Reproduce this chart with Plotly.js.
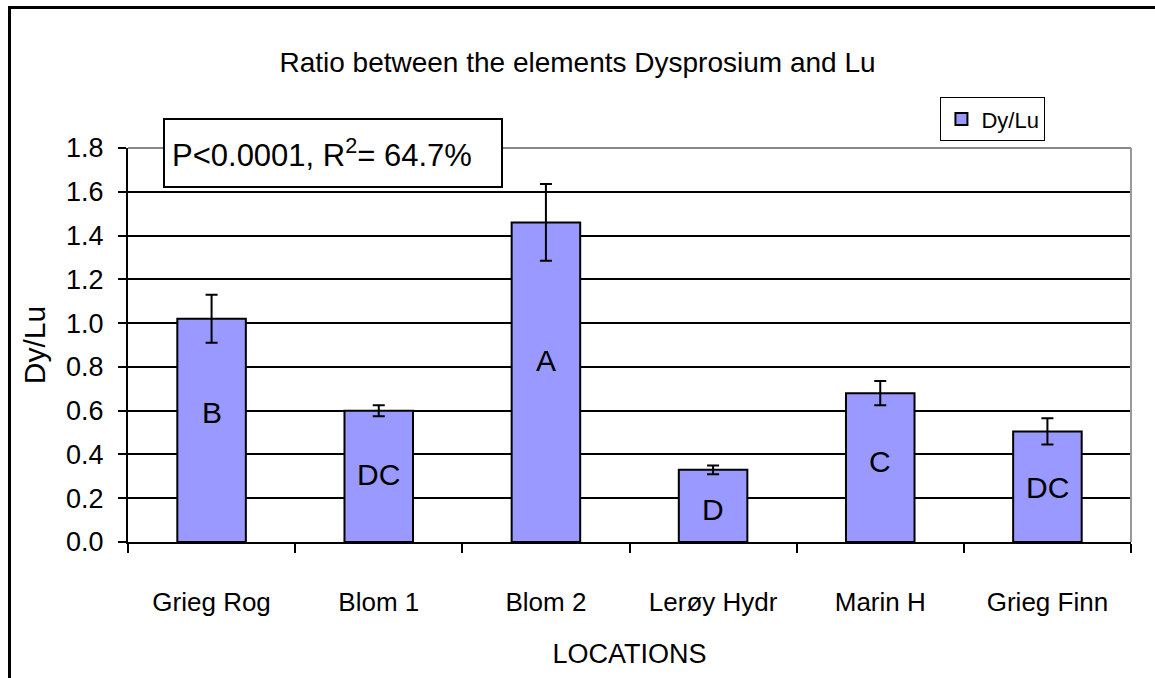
<!DOCTYPE html>
<html>
<head>
<meta charset="utf-8">
<script src="https://cdn.plot.ly/plotly-3.0.1.min.js"></script>
<style>
  body { margin: 0; padding: 0; background: #fff; }
  #wrap { position: relative; width: 1155px; height: 678px; overflow: hidden; }
  #chart { position: absolute; left: 0; top: 0; width: 1155px; height: 678px; }
  #frame { position: absolute; left: 8px; top: 6px; width: 1160px; height: 700px;
           border-left: 3px solid #000; border-top: 3px solid #000; pointer-events: none; }
</style>
</head>
<body>
<div id="wrap">
  <div id="chart"></div>
  <div id="frame"></div>
</div>
<script>
// ---- data ----
const locations = ["Grieg Rog", "Blom 1", "Blom 2", "Lerøy Hydr", "Marin H", "Grieg Finn"];
const dyLu = [1.02, 0.60, 1.46, 0.33, 0.68, 0.505];
const dyLuErr = [0.11, 0.025, 0.175, 0.02, 0.055, 0.06];
const groupLetters = ["B", "DC", "A", "D", "C", "DC"];
const letterLevels = [0.59, 0.31, 0.83, 0.15, 0.37, 0.25];
const yTicks = [0, 0.2, 0.4, 0.6, 0.8, 1.0, 1.2, 1.4, 1.6, 1.8];

const FONT = '"Liberation Sans", Arial, sans-serif';

const trace = {
  type: 'bar',
  name: 'Dy/Lu',
  x: locations,
  y: dyLu,
  width: 0.41,
  marker: { color: '#9999FF', line: { color: '#000', width: 2 } },
  error_y: { type: 'data', array: dyLuErr, visible: true, color: '#000', thickness: 2, width: 6 },
  showlegend: true
};

const annotations = groupLetters.map((t, i) => ({
  x: locations[i], y: letterLevels[i], xref: 'x', yref: 'y',
  text: t, showarrow: false, font: { family: FONT, size: 30, color: '#000' }
}));
annotations.push({
  xref: 'paper', yref: 'paper', x: 0.035, y: 1.076, xanchor: 'left', yanchor: 'top',
  text: 'P<0.0001, R<sup>2</sup>= 64.7%', showarrow: false,
  font: { family: FONT, size: 31, color: '#000' }, width: 322, height: 52,
  bgcolor: '#fff', bordercolor: '#000', borderwidth: 2, borderpad: 7, align: 'left'
});

const layout = {
  width: 1155, height: 678,
  margin: { l: 128, r: 24, t: 148, b: 136 },
  paper_bgcolor: '#fff', plot_bgcolor: '#fff',
  font: { family: FONT, color: '#000', size: 26 },
  title: { text: 'Ratio between the elements Dysprosium and Lu', font: { family: FONT, size: 28, color: '#000' },
           x: 0.5, xanchor: 'center', y: 0.908, yanchor: 'middle' },
  xaxis: {
    type: 'category', tickson: 'boundaries', ticks: 'outside', ticklen: 9, tickwidth: 2, tickcolor: '#000',
    showline: true, linecolor: '#000', linewidth: 2, showgrid: false, zeroline: false, tickangle: 0,
    tickfont: { family: FONT, size: 26, color: '#000' }, ticklabelstandoff: 36,
    title: { text: 'LOCATIONS', font: { family: FONT, size: 27, color: '#000' }, standoff: 28 }
  },
  yaxis: {
    range: [0, 1.8], tickvals: yTicks, ticktext: yTicks.map(v => v.toFixed(1)),
    ticks: 'outside', ticklen: 8, tickwidth: 2, tickcolor: '#000',
    showline: true, linecolor: '#000', linewidth: 2, showgrid: true, gridcolor: '#000', gridwidth: 2,
    zeroline: false, tickfont: { family: FONT, size: 27, color: '#000' }, ticklabelstandoff: 9,
    title: { text: 'Dy/Lu', font: { family: FONT, size: 30, color: '#000' }, standoff: 12 }
  },
  legend: {
    x: 0.81, y: 1.129, xanchor: 'left', yanchor: 'top',
    bgcolor: '#fff', bordercolor: '#000', borderwidth: 1,
    font: { family: FONT, size: 22, color: '#000' }, itemwidth: 30, tracegroupgap: 0
  },
  shapes: [
    { type: 'line', xref: 'paper', yref: 'paper', x0: 0, x1: 1, y0: 1, y1: 1, line: { color: '#888', width: 2 } },
    { type: 'line', xref: 'paper', yref: 'paper', x0: 1, x1: 1, y0: 0, y1: 1, line: { color: '#999', width: 2 } }
  ],
  annotations: annotations,
  bargap: 0.59
};

Plotly.newPlot('chart', [trace], layout, { displayModeBar: false, staticPlot: true });
</script>
</body>
</html>
